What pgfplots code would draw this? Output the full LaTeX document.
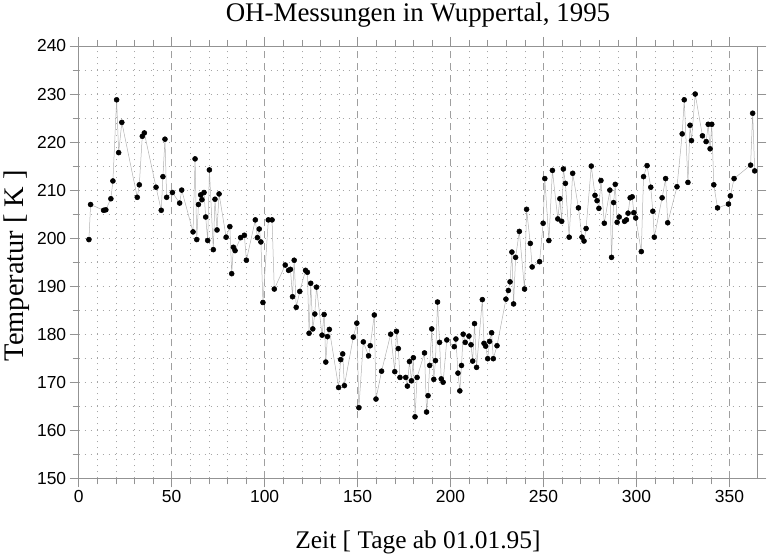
\documentclass[border=0pt]{standalone}
\usepackage{pgfplots}
\pgfplotsset{compat=1.18}
\usepackage{fontspec}
\setmainfont{Liberation Serif}
\newfontfamily\ticksf{Liberation Sans}

\pgfplotstableread{
tag   temp
5.5   199.7
6.4   207.0
13.4  205.8
14.6  205.9
17.3  208.2
18.4  211.9
20.4  228.8
21.5  217.8
23.2  224.1
31.5  208.5
32.6  211.1
34.2  221.2
35.3  221.9
41.6  210.6
44.4  205.8
45.3  212.8
46.4  220.6
47.3  208.5
50.4  209.5
54.3  207.3
55.4  210.0
61.5  201.3
62.6  216.5
63.5  199.7
64.4  207.0
65.6  209.0
66.3  208.0
67.4  209.5
68.3  204.4
69.4  199.5
70.3  214.2
72.4  197.6
73.3  208.1
74.4  201.7
75.5  209.2
79.3  200.2
81.3  202.4
82.3  192.6
83.2  198.1
84.1  197.4
87.1  200.1
89.1  200.6
90.2  195.4
95.0  203.8
96.1  200.1
97.1  201.9
98.0  199.2
99.1  186.6
102.0 203.8
104.0 203.8
105.2 189.4
111.1 194.4
112.9 193.3
113.9 193.5
115.0 187.8
115.9 195.4
117.0 185.6
118.9 188.9
122.0 193.3
123.0 192.9
123.9 180.2
124.8 190.6
125.9 181.1
127.0 184.2
127.9 189.8
130.9 179.8
132.0 184.1
132.9 174.2
133.8 179.5
134.8 181.0
139.8 168.9
140.9 174.7
142.0 175.9
142.9 169.3
147.7 179.4
149.6 182.3
150.7 164.7
153.1 178.4
155.9 175.5
156.8 177.6
159.0 184.0
159.9 166.5
162.9 172.3
167.8 180.0
170.0 172.2
170.9 180.6
171.9 177.0
172.8 171.0
175.9 171.0
176.8 169.2
177.9 174.3
179.0 170.3
180.0 175.1
180.9 162.8
182.0 171.0
186.0 176.1
187.1 163.8
187.9 167.2
188.8 173.5
189.9 181.1
191.0 170.6
191.9 174.5
193.0 186.7
194.1 178.3
195.0 170.7
196.0 170.0
198.0 178.8
202.0 177.4
202.9 179.0
204.0 171.9
205.0 168.2
205.9 173.5
206.8 180.0
207.9 178.3
209.9 179.6
211.0 177.8
211.9 174.4
212.9 182.2
214.0 173.1
217.1 187.2
218.0 178.1
218.9 177.5
220.0 174.9
221.0 178.5
222.1 180.3
223.0 174.9
225.0 177.6
229.8 187.3
231.1 189.1
232.0 190.9
233.0 197.1
233.9 186.3
235.0 196.0
237.0 201.4
239.8 189.4
240.9 206.0
242.9 198.9
243.9 194.0
247.9 195.1
249.8 203.1
250.7 212.4
252.9 199.5
254.8 214.1
257.7 204.0
258.8 208.2
259.8 203.5
260.7 214.4
261.8 211.4
263.8 200.2
265.7 213.5
268.8 206.3
270.7 200.2
271.8 199.4
272.9 202.0
275.7 215.0
277.7 208.9
278.8 207.8
279.8 206.2
280.9 212.0
282.7 203.1
285.7 210.0
286.6 196.0
287.7 207.4
288.6 211.2
289.6 203.3
290.7 204.4
293.6 203.5
294.6 203.8
295.5 205.2
296.6 208.4
297.7 208.6
298.6 205.3
299.6 204.2
302.6 197.2
303.8 212.8
305.7 215.1
307.7 210.6
308.8 205.6
309.6 200.2
313.8 208.4
315.7 212.4
316.8 203.2
321.8 210.7
324.6 221.7
325.7 228.8
327.7 211.6
328.8 223.5
329.6 220.3
331.6 230.0
335.5 221.3
337.5 220.1
338.6 223.7
339.6 218.6
340.5 223.7
341.6 211.1
343.6 206.3
349.5 207.1
350.5 208.8
352.5 212.4
361.4 215.2
362.5 226.0
363.6 214.0
}\ohdaten

\begin{document}
\begin{tikzpicture}
\path[use as bounding box] (-78.7bp,-78.7bp) rectangle (689.3bp,478.3bp);
\begin{axis}[
    scale only axis,
    width=678.6bp, height=432.3bp,
    xmin=0, xmax=365,
    ymin=150, ymax=240,
    xtick={0,50,...,350},
    minor x tick num=4,
    ytick={150,160,...,240},
    minor y tick num=1,
    grid=both,
    major x grid style={gray!75, line width=0.5bp, dash pattern=on 7bp off 5bp},
    minor x grid style={gray!70, line width=0.5bp, dash pattern=on 1bp off 5bp},
    major y grid style={gray!70, line width=0.5bp, dash pattern=on 1.5bp off 4.5bp},
    minor y grid style={gray!70, line width=0.5bp, dash pattern=on 1.5bp off 4.5bp},
    axis line style={gray!85, line width=0.6bp},
    tick style={gray!85, line width=0.5bp},
    tick align=outside,
    major tick length=9bp,
    minor tick length=6bp,
    /pgf/number format/assume math mode=true,
    tick label style={font=\ticksf\fontsize{17.5}{17.5}\selectfont, black},
    title={OH-Messungen in Wuppertal, 1995},
    title style={font=\fontsize{27}{27}\selectfont, at={(axis description cs:0.5,1)}, anchor=base, yshift=19bp},
    xlabel={Zeit [ Tage ab 01.01.95]},
    xlabel style={font=\fontsize{25.5}{25.5}\selectfont, at={(axis description cs:0.5,0)}, anchor=base, yshift=-70.5bp},
    ylabel={Temperatur [ K ]},
    ylabel style={font=\fontsize{28.5}{28.5}\selectfont, at={(axis description cs:-0.0815,0.492)}, anchor=base},
]
\addplot[color=gray!60, line width=0.5bp, mark=*, mark size=2.5bp,
         mark options={draw=black, fill=black}] table[x=tag, y=temp] {\ohdaten};
\end{axis}
\end{tikzpicture}
\end{document}
